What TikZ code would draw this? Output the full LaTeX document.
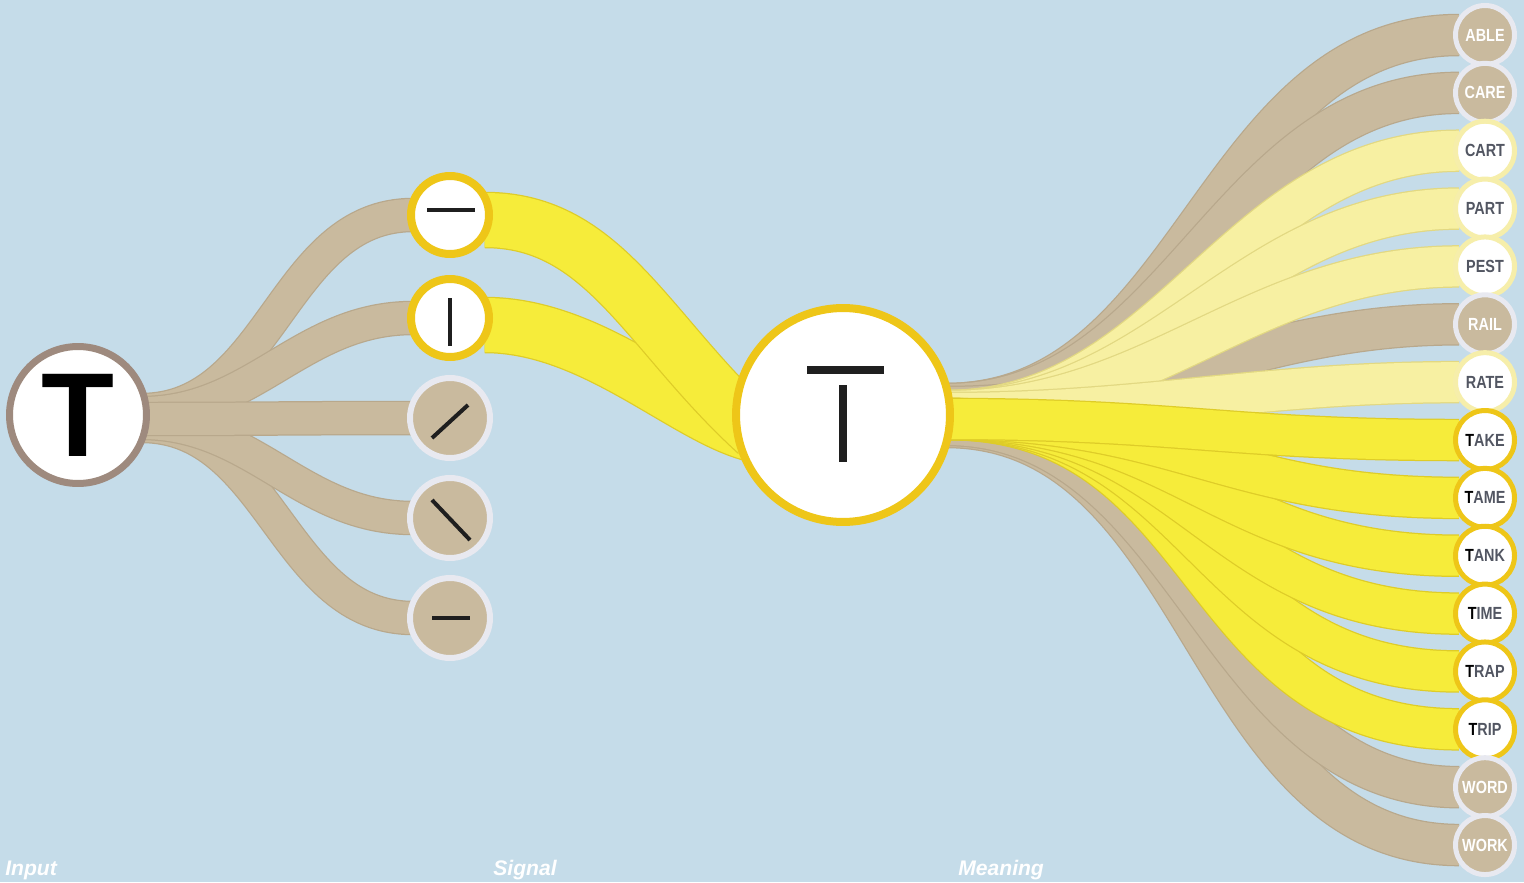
\documentclass[tikz,border=0pt]{standalone}
\usepackage{fontspec}
\setsansfont{Liberation Sans}
\newfontfamily\wordfont[FakeStretch=0.82]{Liberation Sans}
\usetikzlibrary{calc}
\pgfdeclarelayer{bg}
\pgfdeclarelayer{bands}
\pgfsetlayers{bg,bands,main}
\definecolor{sky}{RGB}{197,220,233}
\definecolor{tanfill}{RGB}{201,186,158}
\definecolor{tanedge}{RGB}{184,168,140}
\definecolor{sunfill}{RGB}{246,236,58}
\definecolor{sunedge}{RGB}{222,204,40}
\definecolor{palefill}{RGB}{247,240,162}
\definecolor{paleedge}{RGB}{226,216,130}
\definecolor{goldrim}{RGB}{238,198,24}
\definecolor{palerim}{RGB}{246,238,170}
\definecolor{ashrim}{RGB}{232,233,240}
\definecolor{inrim}{RGB}{158,138,126}
\definecolor{inkgray}{RGB}{82,86,98}
\newcommand\tfirst{\textcolor{black}{T}}
\begin{document}
\begin{tikzpicture}[x=0.02cm, y=-0.02cm,
        tanbelt/.style={draw=tanedge, line width=0.025cm, double=tanfill, double distance=#1},
        tanbelt/.default=0.64cm,
        palebelt/.style={draw=paleedge, line width=0.025cm, double=palefill, double distance=#1},
        palebelt/.default=0.8cm,
        sunbelt/.style={draw=sunedge, line width=0.025cm, double=sunfill, double distance=#1},
        sunbelt/.default=0.8cm,
        letter/.style={circle, draw=inrim, line width=0.14cm, fill=white, minimum size=2.74cm, inner sep=0pt},
        featon/.style={circle, draw=goldrim, line width=0.16cm, fill=white, minimum size=1.56cm},
        featoff/.style={circle, draw=ashrim, line width=0.12cm, fill=tanfill, minimum size=1.6cm},
        core/.style={circle, draw=goldrim, line width=0.16cm, fill=white, minimum size=4.28cm},
        word/.style={circle, line width=0.1cm, minimum size=1.18cm, inner sep=0pt,
            font=\wordfont\bfseries\fontsize{10}{10}\selectfont},
        wordtan/.style={word, draw=ashrim, fill=tanfill, text=white},
        wordpale/.style={word, draw=palerim, fill=white, text=inkgray},
        wordsun/.style={word, draw=goldrim, fill=white, text=inkgray},
        penstroke/.style={line width=0.08cm, draw=black!88},
        caption/.style={anchor=base west, inner sep=0pt, text=white,
            font=\sffamily\bfseries\itshape\fontsize{12}{12}\selectfont}
    ]
    \useasboundingbox (0,0) rectangle (1524,882);
    \begin{pgfonlayer}{bg}
        \fill[sky] (0,0) rectangle (1524,882);
    \end{pgfonlayer}

    % Eingabe, Merkmale, Buchstabe
    \node[letter] (in) at (78,415) {\fontsize{68}{68}\selectfont\sffamily\bfseries T};
    \node[featon] (f1) at (450,215) {};
    \node[featon] (f2) at (450,318) {};
    \node[featoff] (f3) at (450,418) {};
    \node[featoff] (f4) at (450,518) {};
    \node[featoff] (f5) at (450,618) {};
    \node[core] (core) at (843,415) {};

    % Woerter rechts
    \foreach \w/\k [count=\i] in {ABLE/tan, CARE/tan, CART/pale, PART/pale, PEST/pale,
            RAIL/tan, RATE/pale, \tfirst AKE/sun, \tfirst AME/sun, \tfirst ANK/sun,
            \tfirst IME/sun, \tfirst RAP/sun, \tfirst RIP/sun, WORD/tan, WORK/tan}
        \node[word\k] (w\i) at (1485,{35+57.86*(\i-1)}) {\w};

    % Striche in den Kreisen
    \draw[penstroke] ($(f1)+(-23,-5)$) -- ($(f1)+(25,-5)$);
    \draw[penstroke] ($(f2)+(0,-20)$) -- ($(f2)+(0,28)$);
    \draw[penstroke] ($(f3)+(-18,20)$) -- ($(f3)+(18,-13)$);
    \draw[penstroke] ($(f4)+(-18,-18)$) -- ($(f4)+(20,22)$);
    \draw[penstroke] ($(f5)+(-18,0)$) -- ($(f5)+(20,0)$);
    \draw[line width=0.16cm, draw=black!88] ($(core)+(-36,-45)$) -- ($(core)+(41,-45)$);
    \draw[line width=0.16cm, draw=black!88] ($(core)+(0,-30)$) -- ($(core)+(0,47)$);

    \begin{pgfonlayer}{bands}
        \foreach \f/\dy in {f1/-5, f2/-2, f5/11, f4/8, f3/4}
            \draw[tanbelt] ($(in.east)+(-8,\dy)$) to[out=0, in=180] ($(\f.west)+(6,0)$);
        \draw[sunbelt=1.08cm] ($(f2.east)+(-8,7)$) .. controls +(110,0) and +(-70,-15) .. ($(core.west)+(25,20)$);
        \draw[sunbelt=1.08cm] ($(f1.east)+(-8,5)$) .. controls +(120,0) and +(-110,-100) .. ($(core.west)+(25,18)$);
        \foreach \i/\dy in {1/-11, 2/-11, 6/-8, 15/12, 14/10}
            \draw[tanbelt=0.8cm] ($(core.east)+(-8,\dy)$) to[out=0, in=180] ($(w\i.west)+(6,0)$);
        \foreach \i/\dy in {3/-4, 4/-4, 5/-4, 7/-2}
            \draw[palebelt] ($(core.east)+(-8,\dy)$) to[out=0, in=180] ($(w\i.west)+(6,0)$);
        \foreach \i in {13,12,...,8}
            \draw[sunbelt] ($(core.east)+(-8,4)$) to[out=0, in=180, looseness=1.15] ($(w\i.west)+(6,0)$);
    \end{pgfonlayer}

    \node[caption] (capin) at (5,875) {Input};
    \node[caption] (capsig) at (493,875) {Signal};
    \node[caption] (capmean) at (958,875) {Meaning};
\end{tikzpicture}
\end{document}
